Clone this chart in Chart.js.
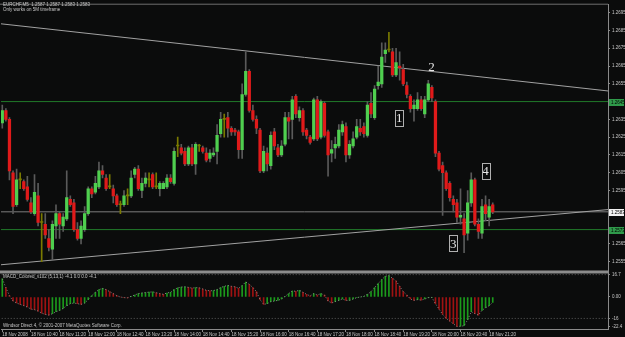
<!DOCTYPE html>
<html>
<head>
<meta charset="utf-8">
<title>EURCHF,M5</title>
<script src="https://cdn.jsdelivr.net/npm/chart.js@4.4.1/dist/chart.umd.min.js"></script>
<style>
    html, body { margin: 0; padding: 0; background: #0b0c0c; }
    #chartBox { width: 625px; height: 337px; }
</style>
</head>
<body>
<div id="chartBox"><canvas id="priceChart" width="625" height="337"></canvas></div>
<script>
// EURCHF M5 candles, one entry per bar (bar 0 = 18 Nov 10:00)
const openPrices = [
    1.2633, 1.2640, 1.2635, 1.2605, 1.2587, 1.2601, 1.2600, 1.2597, 1.2588, 1.2582,
    1.2592, 1.2577, 1.2576, 1.2568, 1.2562, 1.2575, 1.2582, 1.2575, 1.2579, 1.2590,
    1.2588, 1.2573, 1.2568, 1.2573, 1.2582, 1.2596, 1.2594, 1.2597, 1.2606, 1.2602,
    1.2597, 1.2596, 1.2592, 1.2587, 1.2587, 1.2592, 1.2592, 1.2604, 1.2607, 1.2595,
    1.2599, 1.2601, 1.2604, 1.2597, 1.2596, 1.2596, 1.2597, 1.2602, 1.2599, 1.2620,
    1.2619, 1.2617, 1.2610, 1.2619, 1.2610, 1.2620, 1.2619, 1.2616, 1.2613, 1.2615,
    1.2617, 1.2627, 1.2635, 1.2636, 1.2630, 1.2629, 1.2628, 1.2618, 1.2649, 1.2662,
    1.2640, 1.2635, 1.2629, 1.2606, 1.2616, 1.2609, 1.2628, 1.2619, 1.2615, 1.2621,
    1.2636, 1.2635, 1.2648, 1.2636, 1.2640, 1.2629, 1.2625, 1.2624, 1.2646, 1.2625,
    1.2644, 1.2628, 1.2616, 1.2619, 1.2620, 1.2628, 1.2631, 1.2615, 1.2620, 1.2625,
    1.2630, 1.2631, 1.2626, 1.2644, 1.2636, 1.2654, 1.2655, 1.2672, 1.2674, 1.2673,
    1.2660, 1.2665, 1.2663, 1.2654, 1.2648, 1.2641, 1.2641, 1.2646, 1.2638, 1.2646,
    1.2653, 1.2645, 1.2616, 1.2609, 1.2605, 1.2599, 1.2590, 1.2588, 1.2580, 1.2579,
    1.2571, 1.2588, 1.2601, 1.2576, 1.2571, 1.2587, 1.2580, 1.2587
];
const highPrices = [
    1.2643, 1.2641, 1.2636, 1.2606, 1.2607, 1.2605, 1.2601, 1.2603, 1.2591, 1.2604,
    1.2599, 1.2582, 1.2582, 1.2573, 1.2578, 1.2587, 1.2583, 1.2582, 1.2606, 1.2592,
    1.2590, 1.2577, 1.2578, 1.2586, 1.2597, 1.2597, 1.2603, 1.2611, 1.2609, 1.2604,
    1.2604, 1.2598, 1.2593, 1.2589, 1.2595, 1.2596, 1.2606, 1.2608, 1.2609, 1.2602,
    1.2605, 1.2605, 1.2605, 1.2605, 1.2600, 1.2600, 1.2604, 1.2604, 1.2619, 1.2625,
    1.2621, 1.2619, 1.2620, 1.2621, 1.2622, 1.2621, 1.2620, 1.2619, 1.2618, 1.2619,
    1.2632, 1.2639, 1.2638, 1.2639, 1.2631, 1.2630, 1.2629, 1.2655, 1.2673, 1.2663,
    1.2643, 1.2637, 1.2630, 1.2620, 1.2619, 1.2628, 1.2630, 1.2621, 1.2623, 1.2639,
    1.2639, 1.2648, 1.2649, 1.2642, 1.2641, 1.2630, 1.2626, 1.2647, 1.2648, 1.2646,
    1.2645, 1.2629, 1.2623, 1.2625, 1.2632, 1.2634, 1.2633, 1.2623, 1.2628, 1.2635,
    1.2635, 1.2633, 1.2645, 1.2650, 1.2654, 1.2665, 1.2678, 1.2678, 1.2684, 1.2675,
    1.2675, 1.2673, 1.2666, 1.2656, 1.2649, 1.2646, 1.2650, 1.2648, 1.2648, 1.2657,
    1.2654, 1.2646, 1.2617, 1.2611, 1.2606, 1.2600, 1.2592, 1.2590, 1.2596, 1.2582,
    1.2595, 1.2605, 1.2602, 1.2579, 1.2590, 1.2592, 1.2590, 1.2588
];
const lowPrices = [
    1.2630, 1.2634, 1.2601, 1.2582, 1.2586, 1.2596, 1.2595, 1.2589, 1.2582, 1.2581,
    1.2575, 1.2555, 1.2568, 1.2561, 1.2556, 1.2568, 1.2568, 1.2572, 1.2578, 1.2586,
    1.2572, 1.2567, 1.2565, 1.2572, 1.2581, 1.2591, 1.2593, 1.2596, 1.2602, 1.2595,
    1.2596, 1.2588, 1.2586, 1.2582, 1.2586, 1.2587, 1.2591, 1.2602, 1.2595, 1.2591,
    1.2597, 1.2597, 1.2596, 1.2596, 1.2592, 1.2596, 1.2596, 1.2599, 1.2598, 1.2614,
    1.2615, 1.2609, 1.2609, 1.2609, 1.2604, 1.2617, 1.2616, 1.2611, 1.2611, 1.2614,
    1.2610, 1.2625, 1.2625, 1.2625, 1.2626, 1.2626, 1.2613, 1.2613, 1.2648, 1.2639,
    1.2634, 1.2627, 1.2605, 1.2605, 1.2606, 1.2607, 1.2618, 1.2614, 1.2614, 1.2620,
    1.2624, 1.2624, 1.2636, 1.2634, 1.2626, 1.2624, 1.2621, 1.2623, 1.2623, 1.2624,
    1.2625, 1.2603, 1.2611, 1.2613, 1.2619, 1.2626, 1.2611, 1.2613, 1.2619, 1.2624,
    1.2626, 1.2625, 1.2625, 1.2636, 1.2635, 1.2652, 1.2653, 1.2667, 1.2673, 1.2659,
    1.2659, 1.2657, 1.2654, 1.2647, 1.2639, 1.2634, 1.2640, 1.2640, 1.2636, 1.2645,
    1.2645, 1.2614, 1.2606, 1.2581, 1.2595, 1.2589, 1.2583, 1.2577, 1.2576, 1.2560,
    1.2567, 1.2586, 1.2575, 1.2568, 1.2568, 1.2578, 1.2575, 1.2582
];
const closePrices = [
    1.2640, 1.2635, 1.2606, 1.2586, 1.2601, 1.2601, 1.2596, 1.2590, 1.2583, 1.2594,
    1.2577, 1.2577, 1.2570, 1.2563, 1.2576, 1.2582, 1.2576, 1.2580, 1.2591, 1.2587,
    1.2573, 1.2568, 1.2575, 1.2582, 1.2596, 1.2593, 1.2599, 1.2606, 1.2604, 1.2596,
    1.2597, 1.2592, 1.2587, 1.2587, 1.2592, 1.2592, 1.2602, 1.2607, 1.2596, 1.2599,
    1.2602, 1.2601, 1.2597, 1.2597, 1.2599, 1.2599, 1.2602, 1.2600, 1.2617, 1.2620,
    1.2616, 1.2610, 1.2619, 1.2610, 1.2621, 1.2620, 1.2617, 1.2612, 1.2616, 1.2616,
    1.2626, 1.2635, 1.2635, 1.2630, 1.2628, 1.2628, 1.2618, 1.2649, 1.2662, 1.2640,
    1.2635, 1.2630, 1.2606, 1.2617, 1.2610, 1.2626, 1.2620, 1.2615, 1.2620, 1.2636,
    1.2634, 1.2646, 1.2638, 1.2640, 1.2628, 1.2626, 1.2622, 1.2646, 1.2624, 1.2645,
    1.2626, 1.2615, 1.2618, 1.2621, 1.2629, 1.2632, 1.2615, 1.2621, 1.2624, 1.2631,
    1.2628, 1.2627, 1.2643, 1.2638, 1.2652, 1.2656, 1.2670, 1.2674, 1.2674, 1.2660,
    1.2667, 1.2664, 1.2655, 1.2649, 1.2641, 1.2643, 1.2646, 1.2641, 1.2646, 1.2655,
    1.2647, 1.2616, 1.2607, 1.2605, 1.2596, 1.2591, 1.2587, 1.2580, 1.2581, 1.2570,
    1.2588, 1.2601, 1.2576, 1.2572, 1.2586, 1.2582, 1.2586, 1.2583
];

// MACD_Colored (5,13,1) histogram, signal period 1 so the dotted line follows it
const macdValues = [
    13.6, 7, 1, -3, -4.5, -5.5, -6.5, -7.5, -9, -9.5,
    -10.5, -12, -13, -13.5, -12.5, -11, -10, -8.5, -6.5, -5,
    -4.5, -5, -5.5, -4.5, -2, 1, 3.5, 5.5, 6.4, 5.5,
    4, 2.5, 1, 0, -0.5, -0.6, 0.5, 1.5, 2.5, 3,
    3.3, 3.6, 3.8, 3.2, 2.5, 2, 3, 3.5, 5.5, 6.8,
    7.4, 7.6, 7.2, 6.6, 7, 6.8, 6, 5, 4.6, 4.8,
    5.5, 7, 8, 8.6, 8, 7.6, 6.5, 8.5, 11.2, 9.5,
    7, 4, -2, -5.5, -5, -3.5, -3, -2.5, -1.5, 0.5,
    2.5, 4.5, 4.3, 5, 3.5, 2, 0.8, 2.5, 1.5, 2.5,
    1.5, -3, -4.4, -3.5, -2.5, -1.5, -2.5, -2.5, -1.5, -0.5,
    0, 0.5, 2, 4, 7, 10, 13, 15.5, 16, 14,
    12, 8, 4, 1.5, -1.5, -2.5, -2, -2.3, -1.5, -0.5,
    -0.3, -5, -9, -13, -16, -18, -20, -22, -21.8, -21.5,
    -17, -11, -12.5, -13.5, -10, -8, -6.5, -4.1
];
const macdLevels = [16.7, -16];
const macdTicks = [-22.4, -16, 0, 16.7];

// axis labels
const priceTicks = [1.2555, 1.2565, 1.2595, 1.2605, 1.2615, 1.2625, 1.2635, 1.2655, 1.2665, 1.2675, 1.2685, 1.2695];
const timeTickBars = [0, 8, 16, 24, 32, 40, 48, 56, 64, 72, 80, 88, 96, 104, 112, 120, 128, 136];
const timeTickLabels = [
    '18 Nov 2008', '18 Nov 10:40', '18 Nov 11:20', '18 Nov 12:00', '18 Nov 12:40', '18 Nov 13:20',
    '18 Nov 14:00', '18 Nov 14:40', '18 Nov 15:20', '18 Nov 16:00', '18 Nov 16:40', '18 Nov 17:20',
    '18 Nov 18:00', '18 Nov 18:40', '18 Nov 19:20', '18 Nov 20:00', '18 Nov 20:40', '18 Nov 21:20'
];

// drawn objects: trend lines (price at bar -1 and bar 170), horizontal levels, wave marks
const trendBars = [-1, 170];
const upperTrend = [1.26889, 1.26508];
const lowerTrend = [1.25531, 1.25844];
const greenLevels = [1.2645, 1.2573];
const bidPrice = 1.2583;
const waveLabels = ['1', '2', '3', '4'];
const waveBars = [110.9, 119.9, 126.0, 135.0];
const wavePrices = [1.26359, 1.26646, 1.25653, 1.26060];
const waveBoxed = [true, false, true, true];

const BULL = '#4fcf4f';
const BEAR = '#e01a1a';
const DOJI = '#7a7a00';
const WICK = '#5a5a5a';
const TEXT = '#c8c8c8';
const SMALL_FONT = '4.5px "Liberation Sans", Arial, sans-serif';

function candleColor(i) {
    if (openPrices[i] === closePrices[i]) return DOJI;
    return closePrices[i] > openPrices[i] ? BULL : BEAR;
}

function flatLine(price) {
    return trendBars.map(x => ({x: x, y: price}));
}

const bars = openPrices.map((_, i) => i);

// Background, pane separator, boxed price labels and the terminal texts
const terminalLook = {
    id: 'terminalLook',
    beforeDraw(chart) {
        const ctx = chart.ctx;
        ctx.save();
        ctx.fillStyle = '#0b0c0c';
        ctx.fillRect(0, 0, chart.width, chart.height);
        ctx.restore();
    },
    afterDatasetsDraw(chart) {
        const ctx = chart.ctx;
        const xs = chart.scales.x;
        const ys = chart.scales.y;
        ctx.save();
        ctx.font = '13px "Liberation Serif", "DejaVu Serif", serif';
        ctx.textAlign = 'center';
        ctx.textBaseline = 'middle';
        waveLabels.forEach((label, i) => {
            const px = xs.getPixelForValue(waveBars[i]);
            const py = ys.getPixelForValue(wavePrices[i]);
            ctx.fillStyle = '#e6e6e6';
            ctx.fillText(label, px, py + 1);
            if (waveBoxed[i]) {
                ctx.strokeStyle = '#b0b0b0';
                ctx.lineWidth = 1;
                ctx.strokeRect(Math.round(px - 4) + 0.5, Math.round(py - 8) + 0.5, 8, 16);
            }
        });
        ctx.restore();
    },
    afterDraw(chart) {
        const ctx = chart.ctx;
        const area = chart.chartArea;
        const ys = chart.scales.y;
        const ys2 = chart.scales.y2;
        ctx.save();

        // frame top and pane separator
        ctx.fillStyle = '#6e6e6e';
        ctx.fillRect(0, area.top - 1, area.right, 1);
        ctx.fillStyle = '#8c8c8c';
        ctx.fillRect(0, ys2.top, area.right + 1, 3);

        // boxed price labels on the right axis
        ctx.font = SMALL_FONT;
        ctx.textAlign = 'left';
        ctx.textBaseline = 'middle';
        const boxes = [
            {price: greenLevels[0], bg: '#2f9a4a'},
            {price: bidPrice, bg: '#f2f2f2'},
            {price: greenLevels[1], bg: '#2f9a4a'}
        ];
        boxes.forEach(b => {
            const py = Math.round(ys.getPixelForValue(b.price));
            ctx.fillStyle = b.bg;
            ctx.fillRect(area.right + 1, py - 3, 15, 7);
            ctx.fillStyle = '#000000';
            ctx.fillText(b.price.toFixed(4), area.right + 3, py + 0.5);
        });

        // header, indicator name and copyright line
        ctx.fillStyle = TEXT;
        ctx.textBaseline = 'top';
        ctx.fillText('EURCHF,M5  1.2587 1.2587 1.2583 1.2583', 3, 3);
        ctx.fillText('Only works on 5M timeframe', 3, 8);
        ctx.fillText('MACD_Colored_v102 (5,13,1) -4.1 0.0 0.0 -4.1', 3, ys2.top + 4);
        ctx.textBaseline = 'bottom';
        ctx.fillText('Windsor Direct 4, \u00a9 2001-2007 MetaQuotes Software Corp.', 3, area.bottom - 1);
        ctx.restore();
    }
};

// Build chart
function createChart() {
    const ctx = document.getElementById('priceChart').getContext('2d');
    new Chart(ctx, {
        type: 'bar',
        data: {
            datasets: [
                {
                    type: 'line',
                    label: 'Upper trend',
                    data: trendBars.map((x, i) => ({x: x, y: upperTrend[i]})),
                    yAxisID: 'y',
                    borderColor: '#a2a2a2',
                    borderWidth: 1,
                    pointRadius: 0,
                    order: 5
                },
                {
                    type: 'line',
                    label: 'Lower trend',
                    data: trendBars.map((x, i) => ({x: x, y: lowerTrend[i]})),
                    yAxisID: 'y',
                    borderColor: '#a2a2a2',
                    borderWidth: 1,
                    pointRadius: 0,
                    order: 5
                },
                ...greenLevels.map(p => ({
                    type: 'line',
                    label: 'Level ' + p,
                    data: flatLine(p),
                    yAxisID: 'y',
                    borderColor: '#217a2a',
                    borderWidth: 1,
                    pointRadius: 0,
                    order: 6
                })),
                {
                    type: 'line',
                    label: 'Bid',
                    data: flatLine(bidPrice),
                    yAxisID: 'y',
                    borderColor: '#7c7c7c',
                    borderWidth: 1,
                    pointRadius: 0,
                    order: 6
                },
                {
                    label: 'Wicks',
                    data: bars.map(i => ({x: i, y: [lowPrices[i], highPrices[i]]})),
                    yAxisID: 'y',
                    grouped: false,
                    barThickness: 1,
                    backgroundColor: bars.map(i => openPrices[i] === closePrices[i] ? DOJI : WICK),
                    order: 4
                },
                {
                    label: 'Bodies',
                    data: bars.map(i => ({x: i, y: [openPrices[i], closePrices[i]]})),
                    yAxisID: 'y',
                    grouped: false,
                    barThickness: 2.6,
                    minBarLength: 1,
                    backgroundColor: bars.map(candleColor),
                    order: 3
                },
                {
                    label: 'MACD',
                    data: bars.map(i => ({x: i, y: macdValues[i]})),
                    yAxisID: 'y2',
                    grouped: false,
                    barThickness: 1,
                    backgroundColor: bars.map(i => (i === 0 || macdValues[i] >= macdValues[i - 1]) ? '#1c9a1c' : '#9e1212'),
                    order: 3
                },
                {
                    type: 'line',
                    label: 'Signal',
                    data: bars.map(i => ({x: i, y: macdValues[i]})),
                    yAxisID: 'y2',
                    borderColor: '#8a8a8a',
                    borderWidth: 1,
                    borderDash: [1, 2],
                    pointRadius: 0,
                    order: 1
                },
                ...macdLevels.map(v => ({
                    type: 'line',
                    label: 'MACD level ' + v,
                    data: flatLine(v),
                    yAxisID: 'y2',
                    borderColor: '#5c5c5c',
                    borderWidth: 1,
                    borderDash: [1, 2],
                    pointRadius: 0,
                    order: 7
                }))
            ]
        },
        options: {
            responsive: false,
            animation: false,
            layout: {padding: {top: 2, left: 1, right: 0, bottom: 0}},
            plugins: {
                legend: {display: false},
                tooltip: {enabled: false}
            },
            scales: {
                x: {
                    type: 'linear',
                    position: 'bottom',
                    offset: false,
                    min: -0.36,
                    max: 169.2,
                    afterBuildTicks: scale => {
                        scale.ticks = timeTickBars.map(v => ({value: v}));
                    },
                    afterFit: scale => { scale.height = 8; },
                    ticks: {
                        autoSkip: false,
                        maxRotation: 0,
                        align: 'start',
                        padding: 0,
                        color: TEXT,
                        font: {family: '"Liberation Sans", Arial, sans-serif', size: 4.5},
                        callback: (value, index) => timeTickLabels[index]
                    },
                    grid: {offset: false, drawOnChartArea: false, tickLength: 3, color: '#8a8a8a'},
                    border: {color: '#8a8a8a'}
                },
                y: {
                    type: 'linear',
                    position: 'right',
                    stack: 'panes',
                    stackWeight: 268,
                    min: 1.2550,
                    max: 1.26995,
                    afterBuildTicks: scale => {
                        scale.ticks = priceTicks.map(v => ({value: v}));
                    },
                    afterFit: scale => { scale.width = 17; },
                    ticks: {
                        padding: 2,
                        color: TEXT,
                        font: {family: '"Liberation Sans", Arial, sans-serif', size: 4.5},
                        callback: value => value.toFixed(4)
                    },
                    grid: {drawOnChartArea: false, tickLength: 2, color: '#8a8a8a'},
                    border: {color: '#8a8a8a'}
                },
                y2: {
                    type: 'linear',
                    position: 'right',
                    stack: 'panes',
                    stackWeight: 59,
                    min: -23.9,
                    max: 19.8,
                    afterBuildTicks: scale => {
                        scale.ticks = macdTicks.map(v => ({value: v}));
                    },
                    afterFit: scale => { scale.width = 17; },
                    ticks: {
                        padding: 2,
                        color: TEXT,
                        font: {family: '"Liberation Sans", Arial, sans-serif', size: 4.5},
                        callback: value => value === 0 ? '0.00' : String(value)
                    },
                    grid: {drawOnChartArea: false, tickLength: 2, color: '#8a8a8a'},
                    border: {color: '#8a8a8a'}
                }
            }
        },
        plugins: [terminalLook]
    });
}

createChart();
</script>
</body>
</html>
